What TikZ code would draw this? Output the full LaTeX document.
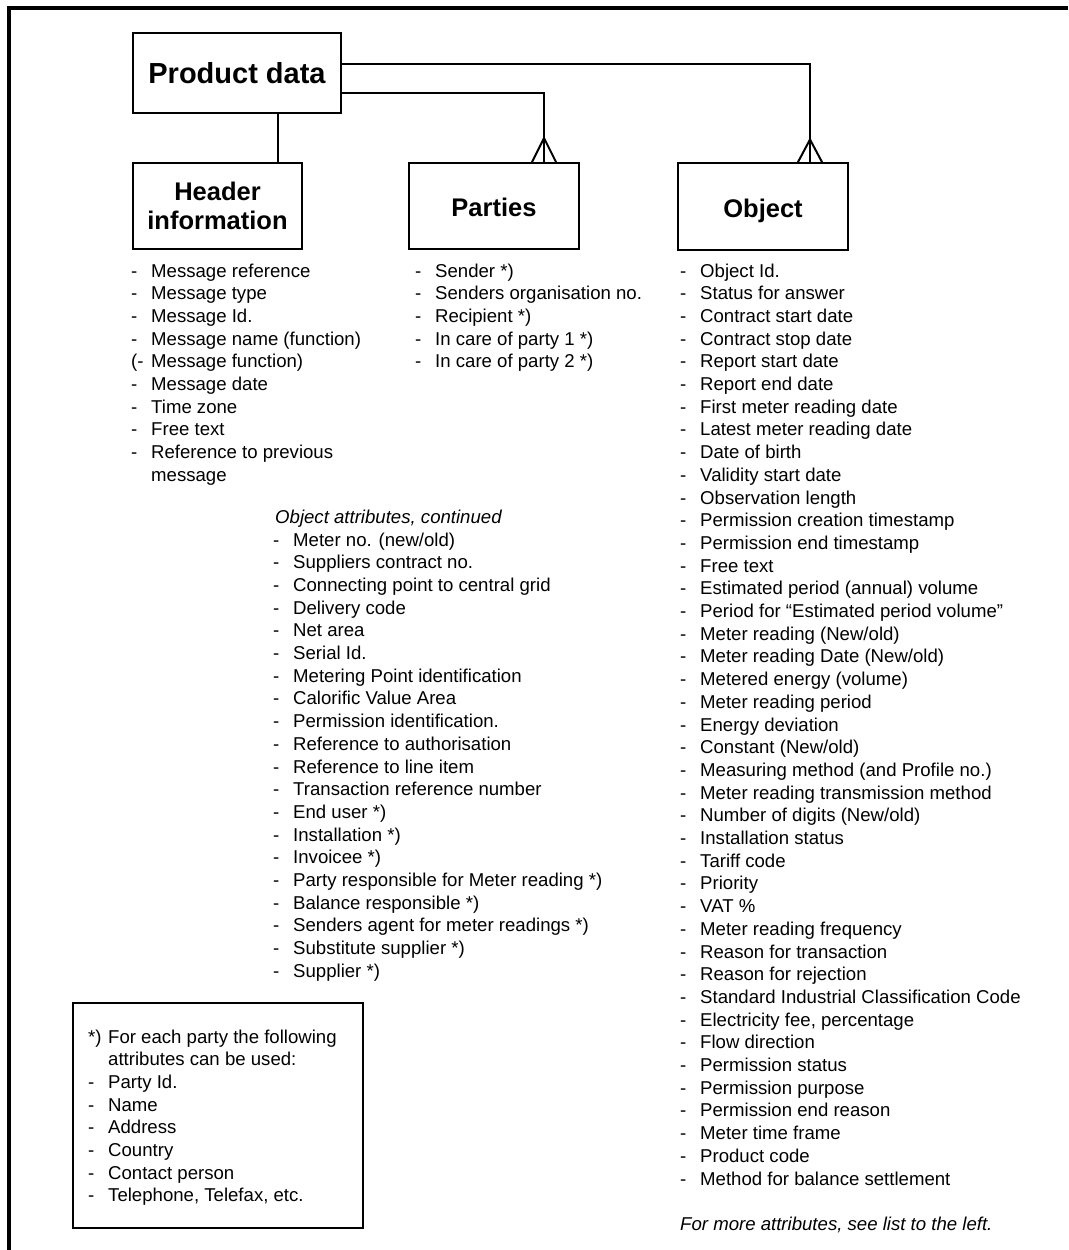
\documentclass[tikz,border=0pt]{standalone}
\usepackage{fontspec}
\setmainfont{Liberation Sans}
\newcommand\dashitem[2][-]{\makebox[20pt][l]{#1}#2}
\tikzset{
  ent/.style={draw, line width=2pt, inner sep=0pt, align=center,
    font=\fontsize{25.5}{29}\selectfont\bfseries},
  oneline/.style={ent, text height=21.5pt, text depth=0pt},
  bigent/.style={ent, font=\fontsize{29}{33}\selectfont\bfseries},
  item/.style={anchor=base west, inner sep=0pt, font=\fontsize{18.6}{22.7}\selectfont},
  italitem/.style={item, font=\fontsize{18.6}{22.7}\selectfont\itshape},
  link/.style={line width=2pt},
  frame/.style={line width=4pt},
}
\begin{document}
\begin{tikzpicture}[x=1pt,y=-1pt]
\useasboundingbox (0,0) rectangle (1068,1250);
% outer frame (open to the right and bottom)
\coordinate (fr1) at (9,1250);
\coordinate (fr2) at (9,8);
\coordinate (fr3) at (1068,8);
\draw[frame] (fr1) -- (fr2) -- (fr3);

% entity boxes
\node[bigent, minimum width=208pt, minimum height=80pt] (pd) at (237,73) {Product data};
\node[ent, minimum width=169pt, minimum height=86pt] (hdr) at (217.5,206) {Header\\information};
\node[oneline, minimum width=170pt, minimum height=86pt] (par) at (494,206) {Parties};
\node[oneline, minimum width=170pt, minimum height=87pt] (obj) at (763,206.5) {Object};

% connectors
\coordinate (hj) at (278,150);
\draw[link] (pd.south -| hj) -- (hdr.north -| hj);

\coordinate (pj) at (544,92.7);
\coordinate (pa) at (544,138);
\coordinate (pf1) at (531.5,163);
\coordinate (pf2) at (556.5,163);
\draw[link] (pd.east |- pj) -- (pj) -- (pj |- par.north);
\draw[link] (pf1) -- (pa) -- (pf2);

\coordinate (oj) at (810,64.3);
\coordinate (oa) at (810,139.5);
\coordinate (of1) at (797.5,163);
\coordinate (of2) at (822.5,163);
\draw[link] (pd.east |- oj) -- (oj) -- (oj |- obj.north);
\draw[link] (of1) -- (oa) -- (of2);

% header attributes
\foreach \t [count=\i from 0] in {Message reference, Message type, Message Id., Message name (function)}
  \node[item] (h\i) at (131,{277+22.7*\i}) {\dashitem{\t}};
\node[item] (h4) at (131,{277+22.7*4}) {\dashitem[(-]{Message function)}};
\foreach \t [count=\i from 5] in {Message date, Time zone, Free text, Reference to previous}
  \node[item] (h\i) at (131,{277+22.7*\i}) {\dashitem{\t}};
\node[item] (h9) at (151,{277+22.7*9}) {message};

% parties attributes
\foreach \t [count=\i from 0] in {Sender *), Senders organisation no., Recipient *), In care of party 1 *), In care of party 2 *)}
  \node[item] (p\i) at (415,{277+22.7*\i}) {\dashitem{\t}};

% object attributes
\foreach \t [count=\i from 0] in {Object Id., Status for answer, Contract start date, Contract stop date,
  Report start date, Report end date, First meter reading date, Latest meter reading date,
  Date of birth, Validity start date, Observation length, Permission creation timestamp,
  Permission end timestamp, Free text, Estimated period (annual) volume,
  Period for “Estimated period volume”, Meter reading (New/old), Meter reading Date (New/old),
  Metered energy (volume), Meter reading period, Energy deviation, Constant (New/old),
  Measuring method (and Profile no.), Meter reading transmission method,
  Number of digits (New/old), Installation status, Tariff code, Priority, VAT \%,
  Meter reading frequency, Reason for transaction, Reason for rejection,
  Standard Industrial Classification Code, {Electricity fee, percentage}, Flow direction,
  Permission status, Permission purpose, Permission end reason, Meter time frame,
  Product code, Method for balance settlement}
  \node[item] (o\i) at (680,{277+22.7*\i}) {\dashitem{\t}};
\node[italitem] (more) at (680,1230) {For more attributes, see list to the left.};

% object attributes continued
\node[italitem] (conthead) at (275,523) {Object attributes, continued};
\foreach \t [count=\i from 0] in {Meter no. (new/old), Suppliers contract no.,
  Connecting point to central grid, Delivery code, Net area, Serial Id.,
  Metering Point identification, Calorific Value Area, Permission identification.,
  Reference to authorisation, Reference to line item, Transaction reference number,
  End user *), Installation *), Invoicee *), Party responsible for Meter reading *),
  Balance responsible *), Senders agent for meter readings *), Substitute supplier *),
  Supplier *)}
  \node[item] (c\i) at (273,{546+22.7*\i}) {\dashitem{\t}};

% footnote box
\node[draw, line width=2pt, minimum width=290pt, minimum height=225pt, inner sep=0pt] (fn) at (218,1115.5) {};
\node[item] (f0) at (88,1043) {\dashitem[*)]{For each party the following}};
\node[item] (f1) at (108,{1043+22.7}) {attributes can be used:};
\foreach \t [count=\i from 2] in {Party Id., Name, Address, Country, Contact person, {Telephone, Telefax, etc.}}
  \node[item] (f\i) at (88,{1043+22.7*\i}) {\dashitem{\t}};
\end{tikzpicture}
\end{document}
